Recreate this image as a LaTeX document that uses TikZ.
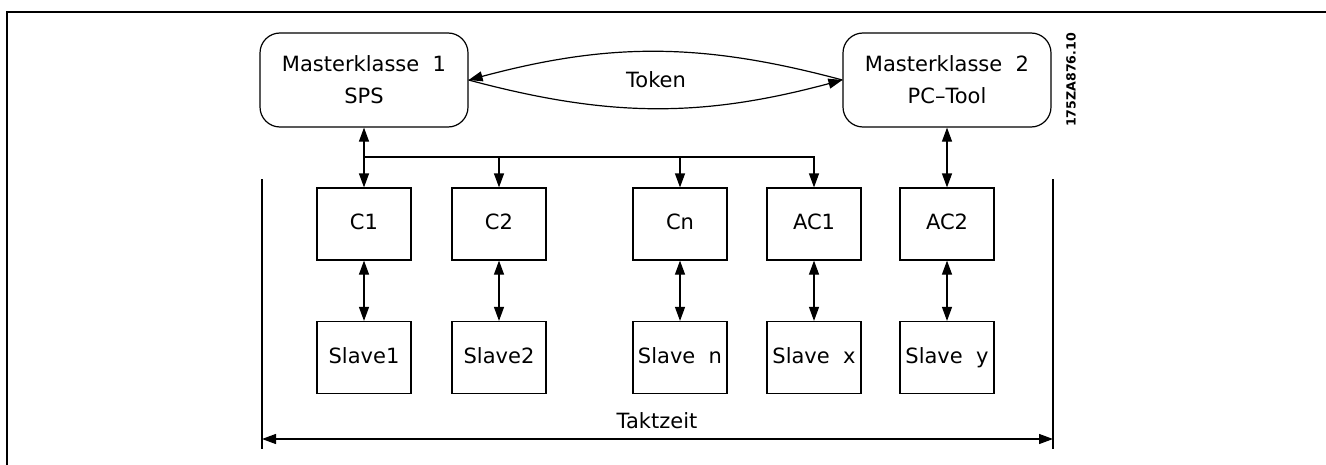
\documentclass[tikz,border=0pt]{standalone}
\usepackage{fontspec}
\setmainfont{DejaVu Sans}
\usetikzlibrary{arrows.meta}

\tikzset{
	box/.style={draw, line width=0.6pt, minimum width=47pt, minimum height=36pt, inner sep=0pt, text height=7.7pt, text depth=2.2pt, font=\fontsize{10.5}{12}\selectfont},
	mbox/.style={draw, line width=0.6pt, rounded corners=10pt, minimum width=104pt, minimum height=47pt, inner sep=0pt, align=center, font=\fontsize{10.5}{16}\selectfont},
	link/.style={line width=0.6pt, -{Triangle[length=7pt,width=5pt]}},
	dlink/.style={line width=0.6pt, {Triangle[length=7pt,width=5pt]}-{Triangle[length=7pt,width=5pt]}},
}

\begin{document}
\begin{tikzpicture}[x=0.5pt, y=-0.5pt]
	\useasboundingbox (0,0) rectangle (1326,465);
	\draw [line width=1pt] (7,465) -- (7,12) -- (1326,12);

	% masters
	\node[mbox] (m1) at (364,80) {Masterklasse\ \ 1\\SPS};
	\node[mbox] (m2) at (947,80) {Masterklasse\ \ 2\\PC--Tool};
	\node[font=\fontsize{10.5}{12}\selectfont] (token) at (656,80) {Token};
	\node[rotate=90, font=\bfseries\fontsize{6.3}{7}\selectfont] (code) at (1071,80) {175ZA876.10};

	\draw[link] (m2.west) to[bend right=15] (m1.east);
	\draw[link] (m1.east) to[bend right=15] (m2.west);

	% C boxes
	\node[box] (c1) at (364,224) {C1};
	\node[box] (c2) at (499,224) {C2};
	\node[box] (cn) at (680,224) {Cn};
	\node[box] (ac1) at (814,224) {AC1};
	\node[box] (ac2) at (947,224) {AC2};

	% slaves
	\node[box] (s1) at (364,357.5) {Slave1};
	\node[box] (s2) at (499,357.5) {Slave2};
	\node[box] (sn) at (680,357.5) {Slave\ \ n};
	\node[box] (sx) at (814,357.5) {Slave\ \ x};
	\node[box] (sy) at (947,357.5) {Slave\ \ y};

	\coordinate (bus) at (364,157);
	\draw[dlink] (m1.south) -- (c1.north);
	\draw[link] (bus) -| (ac1.north);
	\draw[link] (c2.north |- bus) -- (c2.north);
	\draw[link] (cn.north |- bus) -- (cn.north);
	\draw[dlink] (m2.south) -- (ac2.north);

	\foreach \c/\s in {c1/s1, c2/s2, cn/sn, ac1/sx, ac2/sy}
		\draw[dlink] (\c.south) -- (\s.north);

	% Taktzeit
	\coordinate (tlt) at (262,179);
	\coordinate (tlb) at (262,449);
	\coordinate (trt) at (1053,179);
	\coordinate (trb) at (1053,449);
	\coordinate (al) at (262,439);
	\coordinate (ar) at (1053,439);
	\draw[line width=0.6pt] (tlt) -- (tlb);
	\draw[line width=0.6pt] (trt) -- (trb);
	\draw[dlink] (al) -- (ar);
	\node[font=\fontsize{10.5}{12}\selectfont] (takt) at (657,421) {Taktzeit};
\end{tikzpicture}
\end{document}
